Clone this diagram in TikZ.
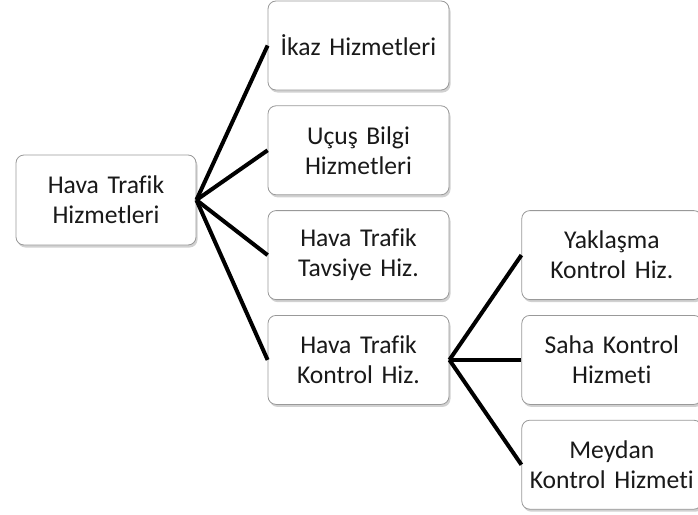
\documentclass[tikz,border=0pt]{standalone}
\usepackage{fontspec}
\setmainfont{Carlito}[Ligatures=NoCommon]
\usetikzlibrary{positioning,shadows}
\tikzset{%
   box/.style={rectangle, rounded corners=8pt, draw=black!40, line width=0.8pt, fill=white,
     minimum width=181pt, minimum height=89pt, text width=175pt, align=center, inner sep=2pt,
     font=\fontsize{25.6}{30}\selectfont, text=black!90,
     drop shadow={shadow xshift=1.5pt, shadow yshift=-2.5pt, opacity=0.3, fill=black!60}},
   link/.style={line width=4pt, black},
}
\begin{document}
\begin{tikzpicture}[x=1pt, y=1pt]
      \useasboundingbox (0,0) rectangle (698,-514);
      \node[box, minimum width=180pt, minimum height=90pt] (h0) at (106,-200) {Hava Trafik\\Hizmetleri};
      \node[box] (h1) at (358.5,-45.5) {İkaz Hizmetleri};
      \node[box, below=15pt of h1] (h2) {Uçuş Bilgi\\Hizmetleri};
      \node[box, below=15pt of h2] (h3) {Hava Trafik\\Tavsiye Hiz.};
      \node[box, below=15pt of h3] (h4) {Hava Trafik\\Kontrol Hiz.};
      \node[box, minimum width=178pt, text width=176pt, right=72pt of h4] (k2) {Saha Kontrol\\Hizmeti};
      \node[box, minimum width=178pt, text width=176pt, above=15pt of k2] (k1) {Yaklaşma\\Kontrol Hiz.};
      \node[box, minimum width=178pt, text width=176pt, below=15pt of k2] (k3) {Meydan\\Kontrol Hizmeti};
      \draw[link] (h0.east) -- (h1.west);
      \draw[link] (h0.east) -- (h2.west);
      \draw[link] (h0.east) -- (h3.west);
      \draw[link] (h0.east) -- (h4.west);
      \draw[link] (h4.east) -- (k1.west);
      \draw[link] (h4.east) -- (k2.west);
      \draw[link] (h4.east) -- (k3.west);
   \end{tikzpicture}
\end{document}
